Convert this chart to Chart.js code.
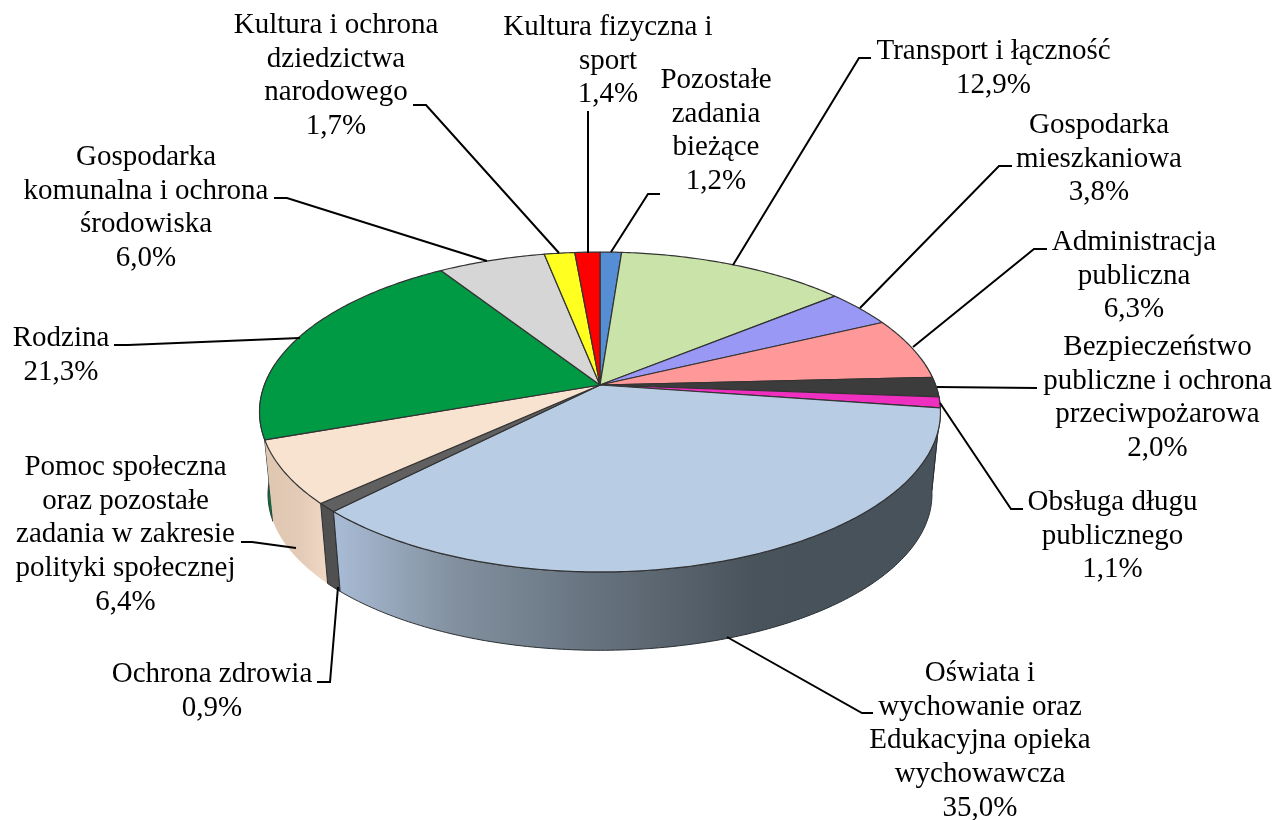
<!DOCTYPE html>
<html><head><meta charset="utf-8">
<style>html,body{margin:0;padding:0;background:#fff}canvas{display:block}</style>
<script src="https://cdn.jsdelivr.net/npm/chart.js@4"></script>
</head><body>
<canvas id="c" width="1287" height="820"></canvas>
<script>
const categories = ["Pozostałe zadania bieżące","Transport i łączność","Gospodarka mieszkaniowa","Administracja publiczna","Bezpieczeństwo publiczne i ochrona przeciwpożarowa","Obsługa długu publicznego","Oświata i wychowanie oraz Edukacyjna opieka wychowawcza","Ochrona zdrowia","Pomoc społeczna oraz pozostałe zadania w zakresie polityki społecznej","Rodzina","Gospodarka komunalna i ochrona środowiska","Kultura i ochrona dziedzictwa narodowego","Kultura fizyczna i sport"];
const values = [1.2,12.9,3.8,6.3,2.0,1.1,35.0,0.9,6.4,21.3,6.0,1.7,1.4];
const percentLabels = ["1,2%","12,9%","3,8%","6,3%","2,0%","1,1%","35,0%","0,9%","6,4%","21,3%","6,0%","1,7%","1,4%"];
const topColors = ["#558ed5","#c9e3a8","#9999f5","#ff9999","#3c3c3c","#ee2fbf","#b8cce4","#606060","#f8e2d0","#009a44","#d6d6d6","#ffff20","#ff0000"];
const sideColors = ["#3f6ba0","#97ab7e","#7373b8","#bf7373","#2d2d2d","#b2238f","#4a555f","#505050","#e6cdb8","#007a3a","#a0a0a0","#bfbf18","#bf0000"];

const labelLines = [
 ["Pozostałe","zadania","bieżące"],["Transport i łączność"],["Gospodarka","mieszkaniowa"],["Administracja","publiczna"],
 ["Bezpieczeństwo","publiczne i ochrona","przeciwpożarowa"],["Obsługa długu","publicznego"],
 ["Oświata i","wychowanie oraz","Edukacyjna opieka","wychowawcza"],["Ochrona zdrowia"],
 ["Pomoc społeczna","oraz pozostałe","zadania w zakresie","polityki społecznej"],["Rodzina"],
 ["Gospodarka","komunalna i ochrona","środowiska"],["Kultura i ochrona","dziedzictwa","narodowego"],["Kultura fizyczna i","sport"]];
const labelX = [716,993.5,1099,1134,1157.5,1112.5,980,212,125.5,61,146,336,608];
const labelY = [88,59,133,250,355,510,681,682,475,346,165,33,35];
const labelPitch = 33.7;
const leaders = [
 [[660,194],[648,194],[611,252]],[[871,58],[859,58],[733,265]],[[1012,166],[999,166],[860,308]],[[1047,249],[1034,249],[913,347]],
 [[1037,388],[937,387]],[[1023,509],[1011,509],[940,403]],[[873,713],[862,713],[727,637]],[[317,682],[330,682],[338,587]],
 [[241,542],[252,542],[296,548]],[[114,345],[128,345],[300,338]],[[274,198],[287,198],[487,261]],[[413,105],[426,105],[559,253]],[[588,111],[588,253]]];

// perspective of the disc
const CX=600, CY=385, A=335.6, B=155.4, P=0.1688, K=0.975, CY2=468;
function proj(t, r, lower){
  const u=r*Math.sin(t), w=r*Math.cos(t), s=1/(1+P*w), k=lower?K:1;
  return [CX+k*A*u*s, (lower?CY2:CY)-k*B*w*s];
}
const VIS0=80*Math.PI/180, VIS1=278*Math.PI/180;
const piePlugin = {
  id:'pie3d',
  beforeDatasetDraw(chart){
    const ctx=chart.ctx, arcs=chart.getDatasetMeta(0).data;
    const spans=arcs.map(a=>{const p=a.getProps(['startAngle','endAngle']);return [p.startAngle+Math.PI/2,p.endAngle+Math.PI/2];});
    // side walls, farthest first
    const grad=ctx.createLinearGradient(340,0,800,0);
    grad.addColorStop(0,"#a7bad3");grad.addColorStop(0.25,"#82909f");grad.addColorStop(0.55,"#67737f");grad.addColorStop(0.9,"#49535c");grad.addColorStop(1,"#48525b");
    const beige=ctx.createLinearGradient(270,0,330,0);
    beige.addColorStop(0,"#e0c7b2");beige.addColorStop(0.5,"#e3cbb7");beige.addColorStop(1,"#f1d9c5");
    ctx.lineJoin='round';
    const order=spans.map((s,i)=>i).sort((a,b)=>Math.abs((spans[b][0]+spans[b][1])/2-Math.PI)-Math.abs((spans[a][0]+spans[a][1])/2-Math.PI));
    order.forEach(i=>{
      const sp=spans[i];
      const a0=Math.max(sp[0],VIS0), a1=Math.min(sp[1],VIS1);
      if(a1<=a0) return;
      ctx.beginPath();
      const n=Math.max(2,Math.ceil((a1-a0)*80));
      for(let j=0;j<=n;j++){const q=proj(a0+(a1-a0)*j/n,1,false);j?ctx.lineTo(q[0],q[1]):ctx.moveTo(q[0],q[1]);}
      for(let j=n;j>=0;j--){const q=proj(a0+(a1-a0)*j/n,1,true);ctx.lineTo(q[0],q[1]);}
      ctx.closePath();
      ctx.fillStyle= i===6?grad : i===8?beige : sideColors[i];
      ctx.fill();
      ctx.lineWidth=1;ctx.strokeStyle= i===8?"rgba(0,0,0,0)":"#2a2f33";
      ctx.stroke();
    });
    // top face
    spans.forEach((sp,i)=>{
      ctx.beginPath();ctx.moveTo(CX,CY);
      const n=Math.max(4,Math.ceil((sp[1]-sp[0])*80));
      for(let j=0;j<=n;j++){const q=proj(sp[0]+(sp[1]-sp[0])*j/n,1,false);ctx.lineTo(q[0],q[1]);}
      ctx.closePath();
      ctx.fillStyle=arcs[i].options.backgroundColor;ctx.fill();
      ctx.lineWidth=1.2;ctx.strokeStyle="#333";ctx.stroke();
    });
    return false;
  },
  afterDraw(chart){
    const ctx=chart.ctx;
    ctx.save();
    ctx.strokeStyle="#000";ctx.lineWidth=2;ctx.lineJoin='miter';
    leaders.forEach(l=>{ctx.beginPath();l.forEach((p,j)=>j?ctx.lineTo(p[0],p[1]):ctx.moveTo(p[0],p[1]));ctx.stroke();});
    ctx.fillStyle="#000";ctx.font='29px "Liberation Serif"';ctx.textAlign='center';ctx.textBaseline='alphabetic';
    labelLines.forEach((ls,i)=>{
      [...ls,percentLabels[i]].forEach((t,j)=>ctx.fillText(t,labelX[i],labelY[i]+j*labelPitch));
    });
    ctx.restore();
  }
};
new Chart(document.getElementById('c'),{
  type:'pie',
  data:{labels:categories,datasets:[{data:values,backgroundColor:topColors,borderWidth:0}]},
  options:{responsive:false,animation:false,rotation:0,
    plugins:{legend:{display:false},tooltip:{enabled:false}}},
  plugins:[piePlugin]
});
</script>
</body></html>
